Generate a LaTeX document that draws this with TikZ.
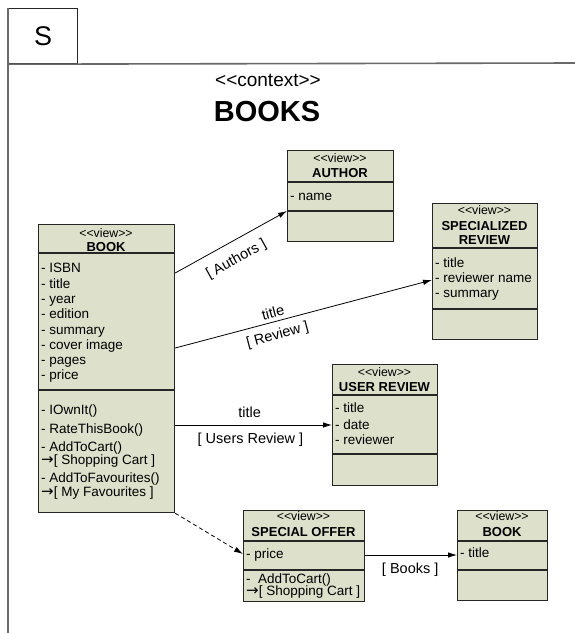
\documentclass[tikz,border=0pt]{standalone}
\usepackage{fontspec}
\setmainfont{Liberation Sans}
\newfontfamily\arrowfont{DejaVu Sans}
\usetikzlibrary{arrows.meta}

\definecolor{viewfill}{RGB}{221,224,203}
\definecolor{viewline}{RGB}{38,38,38}
\definecolor{framegray}{RGB}{105,105,105}

% guillemet-free stereotype brackets and the navigation arrow
\newcommand\stereo[1]{<{}<#1>{}>}
\newcommand\nav{{\arrowfont\fontsize{15}{15}\selectfont →}}

\tikzset{
  frameline/.style={draw=framegray, line width=1.6pt},
  cls/.style={draw=viewline, fill=viewfill, line width=1.2pt, inner sep=0pt, anchor=north west},
  sepline/.style={draw=viewline, line width=1.2pt},
  stereotext/.style={inner sep=0pt, font=\fontsize{12.3}{13}\selectfont},
  clsname/.style={inner sep=0pt, font=\bfseries\fontsize{13}{15}\selectfont},
  member/.style={anchor=base west, inner sep=0pt, font=\fontsize{13.5}{15}\selectfont},
  link/.style={draw=black, line width=0.8pt, -{Latex[length=9pt,width=5.5pt]}},
  dashlink/.style={link, dashed, dash pattern=on 4pt off 3pt},
  lbl/.style={inner sep=0pt, font=\fontsize{14.5}{16}\selectfont},
}

\begin{document}
\begin{tikzpicture}[x=1pt,y=-1pt]
\useasboundingbox (0,0) rectangle (575,633);

% ---- frame with the S tab ----
\node[draw=viewline, line width=1.2pt, minimum width=69pt, minimum height=55pt,
      anchor=north west, inner sep=0pt, font=\fontsize{27}{30}\selectfont] (sbox) at (8,8) {S};
\coordinate (frameRight) at (575,63);
\coordinate (frameBottom) at (8,633);
\draw[frameline] (sbox.south west) -- (frameRight);
\draw[frameline] (sbox.north west) -- (frameBottom);

\node[inner sep=0pt, font=\fontsize{19}{22}\selectfont] (ctx) at (268,80) {\stereo{context}};
\node[inner sep=0pt, font=\bfseries\fontsize{29}{32}\selectfont] (ctxName) at (267,112) {BOOKS};

% ---- BOOK ----
\node[cls, minimum width=136pt, minimum height=288pt] (book) at (38,224) {};
\node[stereotext] (bookSt) at (106,233) {\stereo{view}};
\node[clsname] (bookNm) at (106,247.5) {BOOK};
\draw[sepline] (book.west |- 0,253) -- (book.east |- 0,253);
\draw[sepline] (book.west |- 0,390) -- (book.east |- 0,390);
\foreach \t [count=\i] in {{- ISBN},{- title},{- year},{- edition},{- summary},{- cover image},{- pages},{- price}}
  \node[member] (bookAttr\i) at (41,{272.8+15.3*(\i-1)}) {\t};
\foreach \t/\y [count=\i] in {{- IOwnIt()}/410,{- RateThisBook()}/429,{- AddToCart()}/447,
    {\nav[ Shopping Cart ]}/460,{- AddToFavourites()}/478,{\nav[ My Favourites ]}/492}
  \node[member] (bookOp\i) at (41,\y+4.8) {\t};

% ---- AUTHOR ----
\node[cls, minimum width=106pt, minimum height=91pt] (author) at (287,150) {};
\node[stereotext] (authorSt) at (340,158) {\stereo{view}};
\node[clsname] (authorNm) at (340,173) {AUTHOR};
\draw[sepline] (author.west |- 0,182) -- (author.east |- 0,182);
\draw[sepline] (author.west |- 0,211) -- (author.east |- 0,211);
\node[member] (authorAttr1) at (290,200.8) {- name};

% ---- SPECIALIZED REVIEW ----
\node[cls, minimum width=105pt, minimum height=136pt] (spec) at (432,203) {};
\node[stereotext] (specSt) at (484.5,210) {\stereo{view}};
\node[clsname, align=center, font=\bfseries\fontsize{13}{14.5}\selectfont] (specNm) at (484.5,233) {SPECIALIZED\\REVIEW};
\draw[sepline] (spec.west |- 0,248) -- (spec.east |- 0,248);
\draw[sepline] (spec.west |- 0,309) -- (spec.east |- 0,309);
\foreach \t [count=\i] in {{- title},{- reviewer name},{- summary}}
  \node[member] (specAttr\i) at (435,{267.8+15*(\i-1)}) {\t};

% ---- USER REVIEW ----
\node[cls, minimum width=105pt, minimum height=121pt] (user) at (332,364) {};
\node[stereotext] (userSt) at (384.5,372) {\stereo{view}};
\node[clsname] (userNm) at (384.5,387) {USER REVIEW};
\draw[sepline] (user.west |- 0,395) -- (user.east |- 0,395);
\draw[sepline] (user.west |- 0,454) -- (user.east |- 0,454);
\foreach \t/\y [count=\i] in {{- title}/408,{- date}/425,{- reviewer}/440}
  \node[member] (userAttr\i) at (335,\y+4.8) {\t};

% ---- SPECIAL OFFER ----
\node[cls, minimum width=121pt, minimum height=91pt] (offer) at (243,510) {};
\node[stereotext] (offerSt) at (303.5,516.5) {\stereo{view}};
\node[clsname] (offerNm) at (303.5,532) {SPECIAL OFFER};
\draw[sepline] (offer.west |- 0,541) -- (offer.east |- 0,541);
\draw[sepline] (offer.west |- 0,570) -- (offer.east |- 0,570);
\node[member] (offerAttr1) at (246,558.8) {- price};
\node[member] (offerOp1) at (246,583.3) {-\ \ AddToCart()};
\node[member] (offerOp2) at (246,595.6) {\nav[ Shopping Cart ]};

% ---- BOOK (target of the offer) ----
\node[cls, minimum width=90pt, minimum height=90pt] (book2) at (457,510) {};
\node[stereotext] (book2St) at (502,516.5) {\stereo{view}};
\node[clsname] (book2Nm) at (502,532) {BOOK};
\draw[sepline] (book2.west |- 0,541) -- (book2.east |- 0,541);
\draw[sepline] (book2.west |- 0,570) -- (book2.east |- 0,570);
\node[member] (book2Attr1) at (460,557.8) {- title};

% ---- connector ends ----
\coordinate (bookOutAuthors) at (book.east |- 0,273);
\coordinate (bookOutReview) at (book.east |- 0,348);
\coordinate (bookOutUsers) at (book.east |- 0,425);
\coordinate (authorIn) at (author.west |- 0,211);
\coordinate (specIn) at (spec.west |- 0,280);
\coordinate (userIn) at (user.west |- 0,425);
\coordinate (offerIn) at (offer.west |- 0,554);
\coordinate (offerOut) at (offer.east |- 0,555);
\coordinate (book2In) at (book2.west |- 0,555);

% ---- connectors ----
\draw[link] (bookOutAuthors) -- node[lbl, sloped, pos=0.47, yshift=-18pt] (lblAuthors) {[ Authors ]} (authorIn);
\draw[link] (bookOutReview) --
  node[lbl, sloped, pos=0.39, yshift=9.5pt] (lblReviewKey) {title}
  node[lbl, sloped, pos=0.385, yshift=-14pt] (lblReview) {[ Review ]} (specIn);
\draw[link] (bookOutUsers) --
  node[lbl, pos=0.475, yshift=13pt] (lblUsersKey) {title}
  node[lbl, pos=0.48, yshift=-15pt] (lblUsers) {[ Users Review ]} (userIn);
\draw[dashlink] (book.south east) -- (offerIn);
\draw[link] (offerOut) -- node[lbl, pos=0.49, yshift=-15pt] (lblBooks) {[ Books ]} (book2In);
\end{tikzpicture}
\end{document}
